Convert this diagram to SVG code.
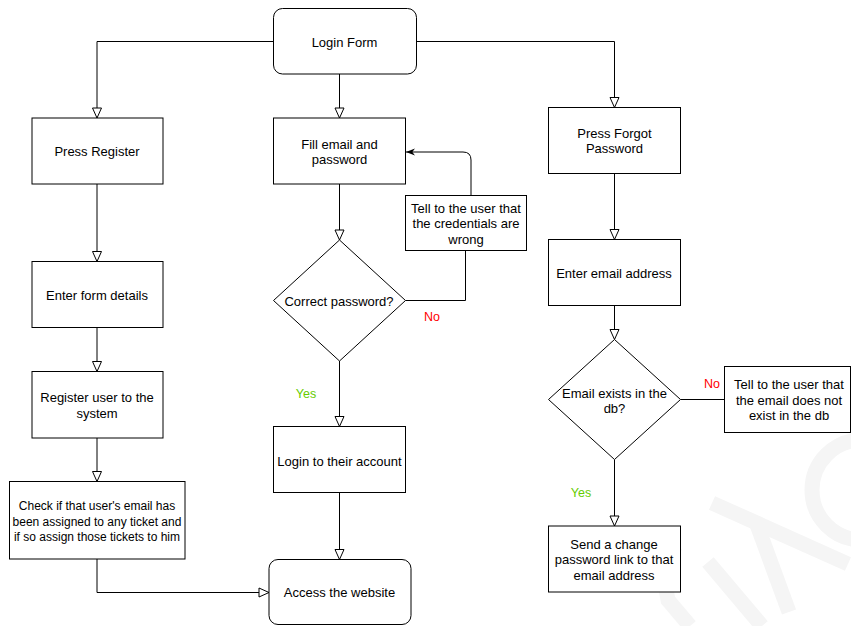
<svg xmlns="http://www.w3.org/2000/svg" width="851" height="626" viewBox="0 0 851 626">
<style>
.box{fill:#fff;stroke:#000;stroke-width:1}
.t{font-family:"Liberation Sans",Arial,sans-serif;font-size:13px;fill:#000;text-anchor:middle}
.s{font-size:12px}
.c{fill:none;stroke:#000;stroke-width:1}
.wm{fill:none;stroke:#f5f5f5;stroke-width:15}
.no{font-family:"Liberation Sans",Arial,sans-serif;font-size:12.5px;fill:#ff0000;text-anchor:middle}
.yes{font-family:"Liberation Sans",Arial,sans-serif;font-size:12.5px;fill:#66cc00;text-anchor:middle}
</style>
<defs>
<marker id="hollow" viewBox="0 0 12 12" refX="11" refY="6" markerWidth="12" markerHeight="12" markerUnits="userSpaceOnUse" orient="auto">
<path d="M1,1.5 L11,6 L1,10.5 Z" fill="#fff" stroke="#000" stroke-width="1"/>
</marker>
<marker id="filled" viewBox="0 0 10 10" refX="10" refY="5" markerWidth="9" markerHeight="9" markerUnits="userSpaceOnUse" orient="auto">
<path d="M0,1 L10,5 L0,9 L3,5 Z" fill="#000"/>
</marker>
</defs>
<rect width="851" height="626" fill="#fff"/>
<g id="watermark">
<circle class="wm" cx="862" cy="490" r="50"/>
<path class="wm" d="M712 503 L848 564"/>
<path class="wm" d="M756 522 L789 612"/>
<path class="wm" d="M708 562 L762 626"/>
<path class="wm" d="M675 546 Q662 575 668 600 L690 626"/>
</g>
<g id="connectors">
<path class="c" d="M273.5 41.5 L97 41.5 L97 118" marker-end="url(#hollow)"/>
<path class="c" d="M339.5 74 L339.5 118" marker-end="url(#hollow)"/>
<path class="c" d="M416.5 41.5 L614.5 41.5 L614.5 107.5" marker-end="url(#hollow)"/>
<path class="c" d="M97 184 L97 261.5" marker-end="url(#hollow)"/>
<path class="c" d="M97 327.5 L97 371.5" marker-end="url(#hollow)"/>
<path class="c" d="M97 438 L97 481.5" marker-end="url(#hollow)"/>
<path class="c" d="M97 559 L97 592.5 L269 592.5" marker-end="url(#hollow)"/>
<path class="c" d="M339.5 184 L339.5 240" marker-end="url(#hollow)"/>
<path class="c" d="M405.5 300.5 L465.5 300.5 L465.5 250.5"/>
<path class="c" d="M471 195.5 L471 160 Q471 152 463 152 L406 152" marker-end="url(#filled)"/>
<path class="c" d="M339.5 361 L339.5 426.5" marker-end="url(#hollow)"/>
<path class="c" d="M339.5 492.5 L339.5 559.5" marker-end="url(#hollow)"/>
<path class="c" d="M614.5 173.5 L614.5 239.5" marker-end="url(#hollow)"/>
<path class="c" d="M614.5 305.5 L614.5 339.5" marker-end="url(#hollow)"/>
<path class="c" d="M680.5 399.5 L724.5 399.5"/>
<path class="c" d="M614.5 459.5 L614.5 526" marker-end="url(#hollow)"/>
<text class="no" x="432" y="321">No</text>
<text class="yes" x="306" y="398">Yes</text>
<text class="no" x="712" y="388">No</text>
<text class="yes" x="581" y="497">Yes</text>
</g>
<g id="login-form">
<rect class="box" x="273.5" y="8.5" width="143" height="65.5" rx="9"/>
<text class="t" x="344.5" y="46.5">Login Form</text>
</g>
<g id="press-register">
<rect class="box" x="32" y="118" width="131" height="66"/>
<text class="t" x="97" y="155.5">Press Register</text>
</g>
<g id="enter-form-details">
<rect class="box" x="32" y="261.5" width="131" height="66"/>
<text class="t" x="97" y="299.5">Enter form details</text>
</g>
<g id="register-user">
<rect class="box" x="32" y="371.5" width="131" height="66.5"/>
<text class="t" x="97" y="402">Register user to the</text>
<text class="t" x="97" y="417.5">system</text>
</g>
<g id="check-email">
<rect class="box" x="9.5" y="481.5" width="175.5" height="77.5"/>
<text class="t s" x="97" y="510">Check if that user's email has</text>
<text class="t s" x="97" y="525.5">been assigned to any ticket and</text>
<text class="t s" x="97" y="541">if so assign those tickets to him</text>
</g>
<g id="fill-email">
<rect class="box" x="273.5" y="118" width="132" height="66"/>
<text class="t" x="339.5" y="148.5">Fill email and</text>
<text class="t" x="339.5" y="164">password</text>
</g>
<g id="correct-password">
<path class="box" d="M339.5 240 L405.5 300.5 L339.5 361 L273.5 300.5 Z"/>
<text class="t" x="339" y="305.5">Correct password?</text>
</g>
<g id="tell-credentials">
<rect class="box" x="405.5" y="195.5" width="121" height="55"/>
<text class="t" x="466" y="213">Tell to the user that</text>
<text class="t" x="466" y="228">the credentials are</text>
<text class="t" x="466" y="244">wrong</text>
</g>
<g id="login-account">
<rect class="box" x="273.5" y="426.5" width="132" height="66"/>
<text class="t" x="339.5" y="465.5">Login to their account</text>
</g>
<g id="access-website">
<rect class="box" x="269" y="559.5" width="142" height="65" rx="9"/>
<text class="t" x="339.5" y="597">Access the website</text>
</g>
<g id="press-forgot">
<rect class="box" x="548.5" y="107.5" width="132" height="66"/>
<text class="t" x="614.5" y="138">Press Forgot</text>
<text class="t" x="614.5" y="153">Password</text>
</g>
<g id="enter-email">
<rect class="box" x="548.5" y="239.5" width="132" height="66"/>
<text class="t" x="614" y="277.5">Enter email address</text>
</g>
<g id="email-exists">
<path class="box" d="M614.5 339.5 L680.5 399.5 L614.5 459.5 L548.5 399.5 Z"/>
<text class="t" x="614.5" y="397.5">Email exists in the</text>
<text class="t" x="614.5" y="413">db?</text>
</g>
<g id="tell-email">
<rect class="box" x="724.5" y="366.5" width="126" height="66"/>
<text class="t" x="789" y="389">Tell to the user that</text>
<text class="t" x="789" y="404.5">the email does not</text>
<text class="t" x="789" y="419.5">exist in the db</text>
</g>
<g id="send-link">
<rect class="box" x="548.5" y="526" width="132" height="66"/>
<text class="t" x="614" y="549">Send a change</text>
<text class="t" x="614" y="564">password link to that</text>
<text class="t" x="614" y="579.5">email address</text>
</g>
</svg>
